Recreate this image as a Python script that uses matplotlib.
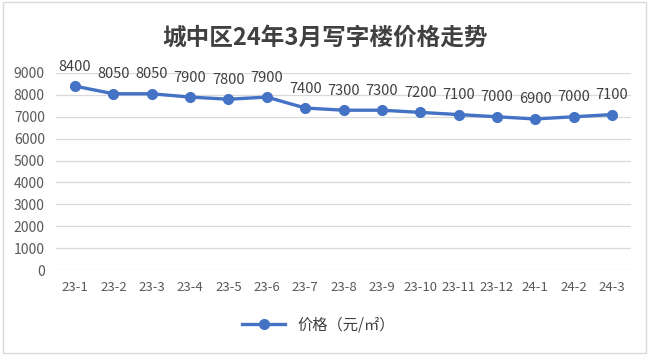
import matplotlib.pyplot as plt
from matplotlib.patches import Rectangle

plt.rcParams['font.family'] = ['Noto Sans CJK SC', 'DejaVu Sans']

months = ['23-1', '23-2', '23-3', '23-4', '23-5', '23-6', '23-7', '23-8',
          '23-9', '23-10', '23-11', '23-12', '24-1', '24-2', '24-3']
prices = [8400, 8050, 8050, 7900, 7800, 7900, 7400, 7300,
          7300, 7200, 7100, 7000, 6900, 7000, 7100]
yticks = list(range(0, 10000, 1000))

fig = plt.figure(figsize=(6.5, 3.55), dpi=100)
ax = fig.add_axes([0.086, 0.2394, 0.885, 0.555])

x = list(range(len(months)))
ax.plot(x, prices, color='#4472C4', lw=2.4, marker='o', ms=7,
        label='价格（元/㎡）')
for xi, p in zip(x, prices):
    ax.annotate(str(p), (xi, p), xytext=(0, 9), textcoords='offset points',
                ha='center', va='bottom', fontsize=10.5, color='#404040')

ax.set_xlim(-0.5, len(months) - 0.5)
ax.set_ylim(0, 9000)
ax.set_xticks(x)
ax.set_xticklabels(months, fontsize=9.5, color='#595959')
ax.set_yticks(yticks)
ax.set_yticklabels([str(v) for v in yticks], fontsize=10, color='#595959')
ax.tick_params(length=0, pad=8)
ax.grid(axis='y', color='#D9D9D9', lw=0.9)
ax.set_axisbelow(True)
for s in ax.spines.values():
    s.set_visible(False)

fig.text(0.5, 0.895, '城中区24年3月写字楼价格走势', ha='center', va='center',
         fontsize=17, fontweight='bold', color='#404040')

fig.legend(loc='center', bbox_to_anchor=(0.49, 0.085), frameon=False,
           fontsize=11, handlelength=2.8, labelcolor='#404040')

fig.patches.append(Rectangle((0.004, 0.006), 0.99, 0.988, transform=fig.transFigure,
                             fill=False, edgecolor='#D9D9D9', lw=1))

fig.savefig('out.png', dpi=100)
